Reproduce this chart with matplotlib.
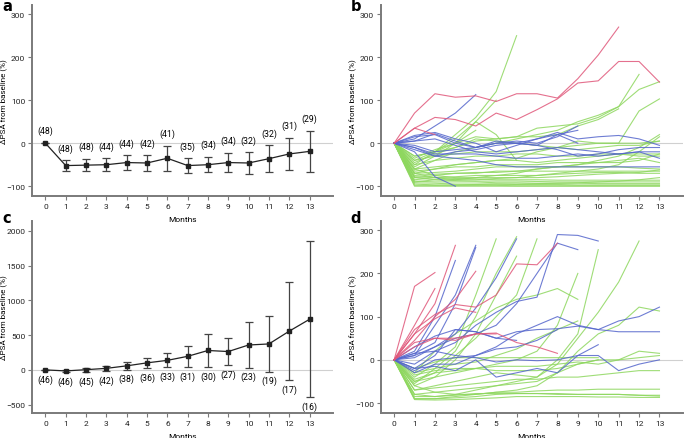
import numpy as np
import matplotlib
matplotlib.use("Agg")
import matplotlib.pyplot as plt

plt.rcParams["font.family"] = ["Roboto", "DejaVu Sans"]

# ---------------------------------------------------------------
# data
# ---------------------------------------------------------------
months = list(range(14))

# panel a: mean +/- SD, n in brackets
a_mean = [0, -52, -51, -50, -45, -46, -35, -52, -50, -45, -46, -36, -25, -19]
a_sd = [0, 12, 14, 15, 17, 18, 29, 17, 18, 22, 25, 31, 37, 48]
a_n = [48, 48, 48, 44, 44, 42, 41, 35, 34, 34, 32, 32, 31, 29]

# panel c: mean +/- SD, n in brackets
c_mean = [0, -15, 3, 22, 58, 101, 137, 195, 279, 264, 358, 373, 557, 728]
c_sd = [0, 15, 30, 36, 53, 72, 99, 152, 240, 197, 325, 397, 706, 1123]
c_n = [46, 46, 45, 42, 38, 36, 33, 31, 30, 27, 23, 19, 17, 16]

# panel b: individual patients (values at month 0, 1, 2, ...)
b_red = [
    [0, 70, 115, 107, 110, 97, 115, 115, 105, 150, 205, 270],
    [0, 35, 60, 55, 40, 70, 55, 78, 103, 140, 145, 190, 190, 142],
    [0, 35, 20],
]
b_blue = [
    [0, 10, 40, 70, 113],
    [0, -20, -78, -100],
    [0, 18, 25, 10, 0, -20, -5, 10, 25, 10, 15, 18, 10, -5],
    [0, 15, 20, 0, -10, 0, 5, 0, 15, 40],
    [0, 5, 22, 5, -10, 5, 0, -5, 20, 0],
    [0, -10, -25, -25, -25, -30, -35, -35, -30, -25, -30, -25, -20, -35],
    [0, -15, -30, -35, -40, -50, -55, -55, -55, -55, -55, -55, -55, -55],
    [0, -10, -30, -20, -15, -5, 0, -5, -15, -30, -25, -15, -10, -10],
    [0, -5, -20, -15, -10, 0, 0, 10, 20, 30],
    [0, 5, 10, -5, -20, -25, -20, -15, -10, -15, -20, -25, -20, -20],
]
b_green = [
    [0, -40, -20, 20, 60, 120, 250],
    [0, -55, -30, 0, 50, 100],
    [0, -30, -20, 10, 50, 20, -40],
    [0, -50, -20, 0, 15, 10, 15, 35, 40, 45, 60, 85, 160],
    [0, -60, -40, -20, -10, 0, 10, 20, 30, 50, 65, 85, 125, 143],
    [0, -70, -60, -50, -45, -40, -35, -20, -10, 5, 0, 0, 75, 103],
    [0, -80, -75, -70, -70, -65, -65, -60, -55, -50, -40, -30, -10, 20],
    [0, -90, -85, -85, -80, -80, -80, -75, -70, -65, -60, -50, -20, 15],
    [0, -50, -40, -35, -30, -30, -25, -25, -30, -30, -25, -25, -25, -25],
    [0, -60, -55, -50, -45, -40, -40, -45, -40, -35, -30, -25, -30, -30],
    [0, -70, -68, -65, -60, -55, -55, -55, -55, -55, -55, -55, -58, -60],
    [0, -75, -72, -70, -68, -68, -65, -65, -65, -65, -65, -65, -65, -65],
    [0, -85, -80, -78, -75, -75, -75, -75, -72, -70, -68, -68, -70, -70],
    [0, -95, -97, -98, -98, -98, -99, -99, -99, -99, -99, -99, -99, -99],
    [0, -92, -93, -95, -95, -95, -96, -96, -96, -97, -97, -97, -97, -97],
    [0, -88, -90, -90, -90, -92, -92, -93, -93, -93, -94, -94, -94, -94],
    [0, -80, -85, -87, -88, -88, -88, -89, -90, -90, -90, -90, -90, -90],
    [0, -78, -80, -82, -83, -85, -85, -85, -86, -86, -86, -86, -86, -86],
    [0, -100, -100, -100, -100, -100, -100, -100, -100, -100, -100, -100, -100, -100],
    [0, -65, -60, -55, -55, -50, -50, -50, -45, -45, -45, -45, -40, -25],
    [0, -45, -25, -10, 10, 5, 0, -5, -10, -15, -10, -5, -5, 5],
    [0, -35, -15, 0, 30],
    [0, -60, -75, -80, -80, -75, -70, -60, -55, -50, -45, -40, -35, -45],
    [0, -40, -30, -25, -20, -20, -20, -15, -10, -5, 0, 0, 0, 5],
    [0, -30, -20, -10, 5, 10, 15, 15, 20, 40, 55, 80],
    [0, -98, -98, -97, -96, -95, -95, -94, -93, -92, -90, -88, -85, -80],
    [0, -70, -80, -85, -85, -82, -80, -80, -78, -75, -72, -70, -68, -62],
]

# panel d: individual patients
d_red = [
    [0, 170, 202],
    [0, 80, 165],
    [0, 60, 130, 265],
    [0, 45, 100, 140, 205],
    [0, 70, 105, 128, 122, 150, 222, 220, 270],
    [0, 40, 50, 50, 60, 62, 40, 30, 15],
    [0, 60, 95, 120, 110],
    [0, 30, 50, 45, 60, 60],
]
d_blue = [
    [0, 20, 100, 230],
    [0, 10, 80, 150, 265],
    [0, 15, 40, 130, 260],
    [0, 5, 30, 60, 120, 190, 280],
    [0, -10, 20, 40, 80, 110, 135, 145, 290, 288, 275],
    [0, 10, 30, 50, 60, 80, 130, 200, 270, 255],
    [0, -20, 10, 70, 65, 50, 65, 70, 72, 78, 70, 65, 65, 65],
    [0, -30, -10, -10, 10, 30, 60, 80, 100, 80, 70, 90, 100, 122],
    [0, -20, -15, -25, 0, -40, -30, -20, -30, 10, 10, -25, -10, 0],
    [0, 30, 55, 70, 65, 50, 45],
    [0, 15, 20, 10, 5, -5, 0, -2, 0, 10, 35],
    [0, -25, 0, 5, 10, 25, 30, 45, 70],
]
d_green = [
    [0, -40, -10, 30, 150, 280],
    [0, -55, -20, 20, 100, 200, 285],
    [0, -60, -40, 0, 60, 150, 240],
    [0, -50, -30, 10, 50, 100, 150, 280],
    [0, -30, 20, 60, 90, 120, 140, 150, 165, 140],
    [0, -50, -40, -30, -20, -10, 0, 20, 80, 200],
    [0, -70, -60, -50, -40, -30, -35, -40, 0, 60, 255],
    [0, -80, -75, -70, -65, -60, -50, -40, -10, 50, 110, 180, 275],
    [0, -90, -90, -85, -80, -75, -70, -60, -30, 20, 60, 80, 122, 113],
    [0, -85, -85, -80, -70, -60, -55, -50, -30, -10, 0, 0, 20, 15],
    [0, -45, -30, -25, -20, -15, -15, -15, -10, -5, -10, 0, 5, 10],
    [0, -70, -65, -60, -55, -50, -45, -45, -40, -40, -35, -30, -25, -25],
    [0, -90, -90, -88, -85, -80, -78, -78, -78, -80, -80, -80, -82, -82],
    [0, -92, -93, -92, -90, -88, -85, -85, -85, -85, -86, -86, -87, -87],
    [0, -80, -85, -82, -78, -78, -78, -78, -80, -80, -80, -80, -82, -84],
    [0, -60, -75, -80, -80, -75, -75, -72, -70, -70, -68, -68, -68, -68],
    [0, -20, -5, 5, 5, 5, 5, 5, 5, 5, 5],
    [0, -30, -20, -10, -5, 10, 25, 50, 70, 90],
    [0, -35, -25, -20, -20, -25, -25, -25, -20, -10, 0],
]

RED = "#e0577a"
BLUE = "#5566cc"
GREEN = "#8ed75f"
SPINE = "#7a7a7a"
FS = 6.0


def style_axes(ax, ylim, yticks):
    ax.patch.set_visible(False)
    ax.set_xlim(-0.65, 14.15)
    ax.set_ylim(*ylim)
    ax.set_xticks(months)
    ax.set_yticks(yticks)
    for s in ("top", "right"):
        ax.spines[s].set_visible(False)
    for s in ("left", "bottom"):
        ax.spines[s].set_color(SPINE)
        ax.spines[s].set_linewidth(1.4)
    ax.tick_params(colors=SPINE, labelcolor="#222222", labelsize=FS,
                   length=3, width=0.8, pad=2)
    ax.axhline(0, color="#d0d0d0", lw=0.8, zorder=0)
    ax.set_xlabel("Months", fontsize=FS)
    ax.xaxis.set_label_coords(0.5, -0.105)
    ax.set_ylabel("\u0394PSA from baseline (%)", fontsize=5.8)
    ax.yaxis.set_label_coords(-0.08, 0.5)


def mean_panel(ax, mean, sd, n, above):
    ax.errorbar(months, mean, yerr=sd, color="#222222", lw=0.9, ms=2.2,
                marker="s", ecolor="#444444", elinewidth=0.9, capsize=2.6,
                capthick=0.9)
    for m, v, e, k in zip(months, mean, sd, n):
        if above:
            ax.annotate(f"({k})", (m, v + e), xytext=(0, 9),
                        textcoords="offset points", ha="center", va="center",
                        fontsize=FS + 0.3)
        else:
            ax.annotate(f"({k})", (m, v - e), xytext=(0, -6.5),
                        textcoords="offset points", ha="center", va="center",
                        fontsize=FS + 0.3)


def spaghetti(ax, groups):
    for lines, col in groups:
        for y in lines:
            ax.plot(months[:len(y)], y, color=col, lw=0.8, alpha=0.85)


fig = plt.figure(figsize=(6.85, 4.39), dpi=100)
ax_a = fig.add_axes([0.047, 0.551, 0.439, 0.435])
ax_b = fig.add_axes([0.556, 0.551, 0.441, 0.435])
ax_c = fig.add_axes([0.047, 0.057, 0.439, 0.437])
ax_d = fig.add_axes([0.556, 0.057, 0.441, 0.437])

mean_panel(ax_a, a_mean, a_sd, a_n, above=True)
style_axes(ax_a, (-123, 321), [-100, 0, 100, 200, 300])

spaghetti(ax_b, [(b_green, GREEN), (b_blue, BLUE), (b_red, RED)])
style_axes(ax_b, (-123, 321), [-100, 0, 100, 200, 300])

mean_panel(ax_c, c_mean, c_sd, c_n, above=False)
style_axes(ax_c, (-620, 2140), [-500, 0, 500, 1000, 1500, 2000])

spaghetti(ax_d, [(d_green, GREEN), (d_blue, BLUE), (d_red, RED)])
style_axes(ax_d, (-123, 321), [-100, 0, 100, 200, 300])

for x, y, t in [(0.004, 0.985, "a"), (0.512, 0.985, "b"),
                (0.004, 0.502, "c"), (0.512, 0.502, "d")]:
    fig.text(x, y, t, fontsize=10.5, fontweight="bold", family="DejaVu Sans",
             va="center", ha="left")

fig.savefig("out.png", dpi=100)
